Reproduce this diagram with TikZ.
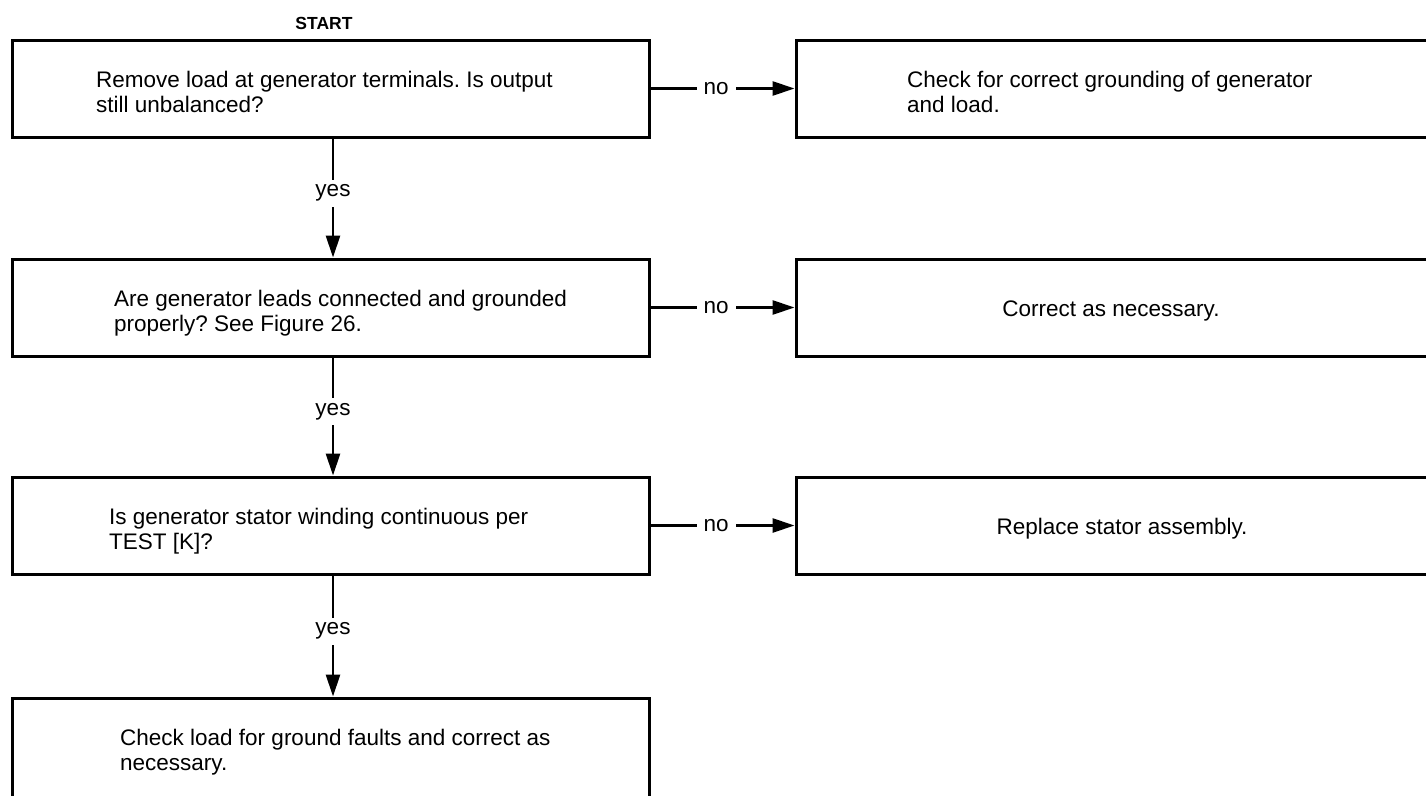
\documentclass[tikz,border=0pt]{standalone}
\usepackage{fontspec}
\setmainfont{Liberation Sans}
\usetikzlibrary{arrows.meta}
\frenchspacing
\begin{document}
\begin{tikzpicture}[x=1pt,y=-1pt,
  box/.style={draw, line width=3pt, minimum width=637pt, minimum height=97pt, inner sep=0pt},
  rbox/.style={box, minimum width=644pt},
  txt/.style={font=\fontsize{22.5}{25}\selectfont, align=left, inner sep=0pt},
  arr/.style={line width=2.8pt, -{Triangle[length=22pt,width=14pt]}},
  lab/.style={fill=white, font=\fontsize{22.5}{25}\selectfont, inner xsep=7pt, inner ysep=3pt},
  vlab/.style={fill=white, font=\fontsize{22.5}{25}\selectfont, inner sep=5pt}]
\useasboundingbox (0,0) rectangle (1426,795);
\clip (0,0) rectangle (1426,795);

% left column boxes
\node[box] (b1) at (330.5,88.5) {};
\node[box] (b2) at (330.5,307.5) {};
\node[box] (b3) at (330.5,525.5) {};
\node[box, minimum height=104pt] (b4) at (330.5,750) {};
% right column boxes
\node[rbox] (r1) at (1118,88.5) {};
\node[rbox] (r2) at (1118,307.5) {};
\node[rbox] (r3) at (1118,525.5) {};

% texts
\node[font=\bfseries\fontsize{17.5}{20}\selectfont, anchor=base, inner sep=0pt] (start) at (324,29) {START};
\node[txt, anchor=west] (t1) at (96,94.5) {\strut Remove load at generator terminals. Is output\\\strut still unbalanced?};
\node[txt, anchor=west] (t2) at (114,313.5) {\strut Are generator leads connected and grounded\\\strut properly? See Figure 26.};
\node[txt, anchor=west] (t3) at (109,531.5) {\strut Is generator stator winding continuous per\\\strut TEST [K]?};
\node[txt, anchor=west] (t4) at (120,752.5) {\strut Check load for ground faults and correct as\\\strut necessary.};
\node[txt, anchor=west] (tr1) at (907,94.5) {\strut Check for correct grounding of generator\\\strut and load.};
\node[txt] (tr2) at (1111,311) {\strut Correct as necessary.};
\node[txt] (tr3) at (1122,529) {\strut Replace stator assembly.};

% yes connectors
\draw[arr] ([xshift=2.5pt]b1.south) -- node[vlab, pos=0.46] (y1) {yes} ([xshift=2.5pt]b2.north);
\draw[arr] ([xshift=2.5pt]b2.south) -- node[vlab, pos=0.46] (y2) {yes} ([xshift=2.5pt]b3.north);
\draw[arr] ([xshift=2.5pt]b3.south) -- node[vlab, pos=0.46] (y3) {yes} ([xshift=2.5pt]b4.north);

% no connectors
\draw[arr] (b1.east) -- node[lab, pos=0.455] (n1) {no} (r1.west);
\draw[arr] (b2.east) -- node[lab, pos=0.455] (n2) {no} (r2.west);
\draw[arr] (b3.east) -- node[lab, pos=0.455] (n3) {no} (r3.west);
\end{tikzpicture}
\end{document}
